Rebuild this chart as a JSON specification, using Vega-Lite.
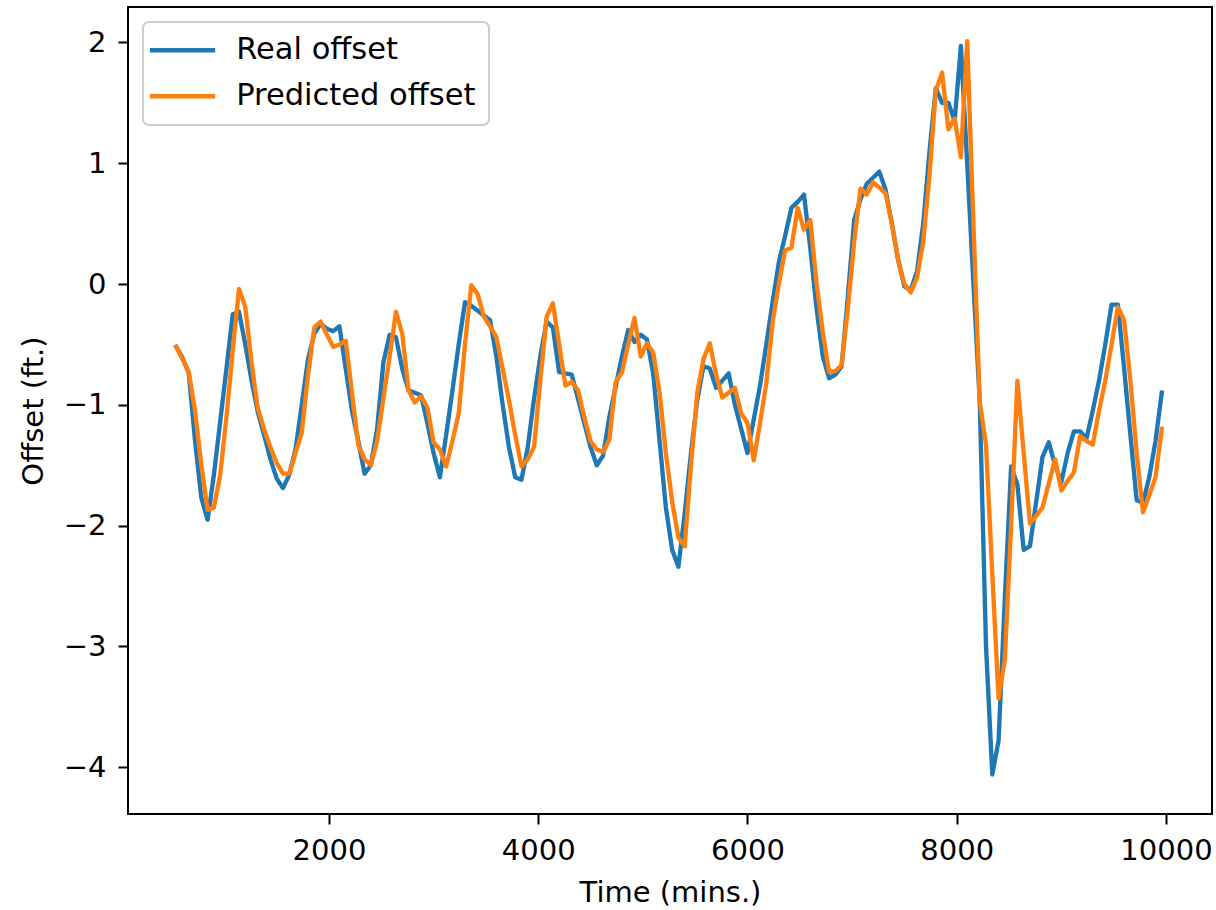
{
  "$schema": "https://vega.github.io/schema/vega-lite/v6.json",
  "width": 1084,
  "height": 807,
  "autosize": {"type": "none"},
  "padding": {"left": 128, "top": 7, "right": 4, "bottom": 96},
  "background": "white",
  "data": {"values": [
    {"t":540,"r":-0.52,"p":-0.52},{"t":600,"r":-0.61,"p":-0.62},{"t":660,"r":-0.74,"p":-0.73},{"t":720,"r":-1.3,"p":-1.05},
    {"t":780,"r":-1.77,"p":-1.5},{"t":840,"r":-1.95,"p":-1.87},{"t":900,"r":-1.58,"p":-1.85},{"t":960,"r":-1.14,"p":-1.58},
    {"t":1020,"r":-0.7,"p":-1.1},{"t":1080,"r":-0.25,"p":-0.55},{"t":1140,"r":-0.23,"p":-0.04},{"t":1200,"r":-0.5,"p":-0.19},
    {"t":1260,"r":-0.8,"p":-0.65},{"t":1320,"r":-1.06,"p":-1.03},{"t":1380,"r":-1.25,"p":-1.2},{"t":1440,"r":-1.45,"p":-1.35},
    {"t":1500,"r":-1.61,"p":-1.48},{"t":1560,"r":-1.69,"p":-1.57},{"t":1620,"r":-1.58,"p":-1.57},{"t":1680,"r":-1.37,"p":-1.4},
    {"t":1740,"r":-1.0,"p":-1.23},{"t":1800,"r":-0.62,"p":-0.75},{"t":1860,"r":-0.41,"p":-0.36},{"t":1920,"r":-0.33,"p":-0.31},
    {"t":1980,"r":-0.37,"p":-0.42},{"t":2040,"r":-0.39,"p":-0.52},{"t":2100,"r":-0.35,"p":-0.5},{"t":2160,"r":-0.7,"p":-0.47},
    {"t":2220,"r":-1.05,"p":-0.9},{"t":2280,"r":-1.3,"p":-1.33},{"t":2340,"r":-1.57,"p":-1.45},{"t":2400,"r":-1.5,"p":-1.5},
    {"t":2460,"r":-1.2,"p":-1.3},{"t":2520,"r":-0.65,"p":-0.95},{"t":2580,"r":-0.42,"p":-0.6},{"t":2640,"r":-0.44,"p":-0.23},
    {"t":2700,"r":-0.7,"p":-0.41},{"t":2760,"r":-0.88,"p":-0.88},{"t":2820,"r":-0.9,"p":-0.98},{"t":2880,"r":-0.92,"p":-0.93},
    {"t":2940,"r":-1.15,"p":-1.02},{"t":3000,"r":-1.4,"p":-1.31},{"t":3060,"r":-1.6,"p":-1.37},{"t":3120,"r":-1.25,"p":-1.51},
    {"t":3180,"r":-0.88,"p":-1.3},{"t":3240,"r":-0.5,"p":-1.07},{"t":3300,"r":-0.15,"p":-0.5},{"t":3360,"r":-0.18,"p":-0.01},
    {"t":3420,"r":-0.22,"p":-0.08},{"t":3480,"r":-0.26,"p":-0.27},{"t":3540,"r":-0.3,"p":-0.35},{"t":3600,"r":-0.6,"p":-0.44},
    {"t":3660,"r":-1.0,"p":-0.7},{"t":3720,"r":-1.35,"p":-0.96},{"t":3780,"r":-1.6,"p":-1.25},{"t":3840,"r":-1.62,"p":-1.51},
    {"t":3900,"r":-1.35,"p":-1.45},{"t":3960,"r":-0.95,"p":-1.35},{"t":4020,"r":-0.6,"p":-0.8},{"t":4080,"r":-0.31,"p":-0.27},
    {"t":4140,"r":-0.36,"p":-0.16},{"t":4200,"r":-0.73,"p":-0.5},{"t":4260,"r":-0.74,"p":-0.84},{"t":4320,"r":-0.75,"p":-0.81},
    {"t":4380,"r":-0.95,"p":-0.88},{"t":4440,"r":-1.15,"p":-1.1},{"t":4500,"r":-1.35,"p":-1.3},{"t":4560,"r":-1.5,"p":-1.37},
    {"t":4620,"r":-1.42,"p":-1.39},{"t":4680,"r":-1.1,"p":-1.29},{"t":4740,"r":-0.85,"p":-0.81},{"t":4800,"r":-0.6,"p":-0.73},
    {"t":4860,"r":-0.38,"p":-0.5},{"t":4920,"r":-0.48,"p":-0.28},{"t":4980,"r":-0.42,"p":-0.6},{"t":5040,"r":-0.46,"p":-0.49},
    {"t":5100,"r":-0.75,"p":-0.57},{"t":5160,"r":-1.3,"p":-0.9},{"t":5220,"r":-1.85,"p":-1.4},{"t":5280,"r":-2.2,"p":-1.8},
    {"t":5340,"r":-2.34,"p":-2.1},{"t":5400,"r":-1.9,"p":-2.17},{"t":5460,"r":-1.4,"p":-1.5},{"t":5520,"r":-0.96,"p":-0.9},
    {"t":5580,"r":-0.68,"p":-0.62},{"t":5640,"r":-0.7,"p":-0.49},{"t":5700,"r":-0.86,"p":-0.75},{"t":5760,"r":-0.8,"p":-0.94},
    {"t":5820,"r":-0.74,"p":-0.9},{"t":5880,"r":-1.0,"p":-0.86},{"t":5940,"r":-1.2,"p":-1.07},{"t":6000,"r":-1.4,"p":-1.15},
    {"t":6060,"r":-1.12,"p":-1.46},{"t":6120,"r":-0.84,"p":-1.15},{"t":6180,"r":-0.5,"p":-0.82},{"t":6240,"r":-0.15,"p":-0.32},
    {"t":6300,"r":0.18,"p":0.0},{"t":6360,"r":0.4,"p":0.28},{"t":6420,"r":0.63,"p":0.3},{"t":6480,"r":0.68,"p":0.63},
    {"t":6540,"r":0.74,"p":0.45},{"t":6600,"r":0.3,"p":0.53},{"t":6660,"r":-0.2,"p":0.01},{"t":6720,"r":-0.6,"p":-0.4},
    {"t":6780,"r":-0.78,"p":-0.73},{"t":6840,"r":-0.75,"p":-0.72},{"t":6900,"r":-0.68,"p":-0.67},{"t":6960,"r":-0.1,"p":-0.2},
    {"t":7020,"r":0.53,"p":0.35},{"t":7080,"r":0.7,"p":0.79},{"t":7140,"r":0.83,"p":0.74},{"t":7200,"r":0.88,"p":0.84},
    {"t":7260,"r":0.93,"p":0.8},{"t":7320,"r":0.78,"p":0.75},{"t":7380,"r":0.5,"p":0.5},{"t":7440,"r":0.2,"p":0.2},
    {"t":7500,"r":-0.02,"p":0.0},{"t":7560,"r":-0.05,"p":-0.07},{"t":7620,"r":0.1,"p":0.05},{"t":7680,"r":0.5,"p":0.35},
    {"t":7740,"r":1.1,"p":0.9},{"t":7800,"r":1.62,"p":1.6},{"t":7860,"r":1.5,"p":1.75},{"t":7920,"r":1.5,"p":1.28},
    {"t":7980,"r":1.35,"p":1.37},{"t":8040,"r":1.97,"p":1.05},{"t":8100,"r":1.0,"p":2.01},{"t":8160,"r":0.0,"p":0.5},
    {"t":8220,"r":-0.97,"p":-0.97},{"t":8280,"r":-3.0,"p":-1.33},{"t":8340,"r":-4.06,"p":-2.4},{"t":8400,"r":-3.78,"p":-3.43},
    {"t":8460,"r":-2.6,"p":-3.11},{"t":8520,"r":-1.51,"p":-2.0},{"t":8580,"r":-1.66,"p":-0.8},{"t":8640,"r":-2.2,"p":-1.4},
    {"t":8700,"r":-2.17,"p":-1.98},{"t":8760,"r":-1.8,"p":-1.92},{"t":8820,"r":-1.43,"p":-1.85},{"t":8880,"r":-1.31,"p":-1.65},
    {"t":8940,"r":-1.5,"p":-1.45},{"t":9000,"r":-1.64,"p":-1.71},{"t":9060,"r":-1.4,"p":-1.63},{"t":9120,"r":-1.22,"p":-1.56},
    {"t":9180,"r":-1.22,"p":-1.26},{"t":9240,"r":-1.28,"p":-1.3},{"t":9300,"r":-1.05,"p":-1.33},{"t":9360,"r":-0.8,"p":-1.05},
    {"t":9420,"r":-0.5,"p":-0.8},{"t":9480,"r":-0.17,"p":-0.5},{"t":9540,"r":-0.17,"p":-0.19},{"t":9600,"r":-0.7,"p":-0.3},
    {"t":9660,"r":-1.25,"p":-0.8},{"t":9720,"r":-1.79,"p":-1.4},{"t":9780,"r":-1.81,"p":-1.89},{"t":9840,"r":-1.6,"p":-1.75},
    {"t":9900,"r":-1.3,"p":-1.6},{"t":9960,"r":-0.9,"p":-1.2}
  ]},
  "transform": [{"fold": ["r", "p"], "as": ["s", "v"]}],
  "encoding": {
    "x": {
      "field": "t", "type": "quantitative",
      "scale": {"domain": [79, 10440], "nice": false, "zero": false},
      "axis": {"title": "Time (mins.)", "values": [2000, 4000, 6000, 8000, 10000], "format": "d"}
    },
    "y": {
      "field": "v", "type": "quantitative",
      "scale": {"domain": [-4.387, 2.293], "nice": false, "zero": false},
      "axis": {"title": "Offset (ft.)", "values": [-4, -3, -2, -1, 0, 1, 2], "format": "d", "titlePadding": 15}
    },
    "color": {
      "field": "s", "type": "nominal",
      "scale": {"domain": ["r", "p"], "range": ["#1f77b4", "#ff7f0e"]},
      "legend": {
        "orient": "none", "legendX": 15, "legendY": 15, "title": null,
        "labelExpr": "datum.value === 'r' ? 'Real offset' : 'Predicted offset'",
        "symbolType": "M-2.54,0H2.54", "symbolSize": 576, "symbolStrokeWidth": 4.35, "symbolOffset": 11.25,
        "labelFont": "DejaVu Sans", "labelFontSize": 30.5, "labelColor": "black", "labelOffset": 38.5, "labelLimit": 400,
        "rowPadding": 15, "padding": 13,
        "fillColor": "rgba(255,255,255,0.8)", "strokeColor": "#cccccc", "cornerRadius": 6,
        "encode": {
          "symbols": {"update": {"strokeCap": {"value": "square"}}},
          "legend": {"update": {"strokeWidth": {"value": 2}}}
        }
      }
    }
  },
  "layer": [
    {
      "transform": [{"filter": "datum.s === 'r'"}],
      "mark": {"type": "line", "strokeWidth": 4.35, "strokeCap": "square", "strokeJoin": "round"}
    },
    {
      "transform": [{"filter": "datum.s === 'p'"}],
      "mark": {"type": "line", "strokeWidth": 4.35, "strokeCap": "square", "strokeJoin": "round"}
    }
  ],
  "config": {
    "view": {"stroke": "black", "strokeWidth": 2},
    "font": "DejaVu Sans",
    "axis": {
      "domain": false, "grid": false,
      "ticks": true, "tickColor": "black", "tickWidth": 2, "tickSize": 10,
      "labelFont": "DejaVu Sans", "labelFontSize": 29, "labelColor": "black", "labelPadding": 12, "labelFlush": false,
      "titleFont": "DejaVu Sans", "titleFontSize": 29, "titleFontWeight": "normal", "titleColor": "black", "titlePadding": 13
    }
  }
}
